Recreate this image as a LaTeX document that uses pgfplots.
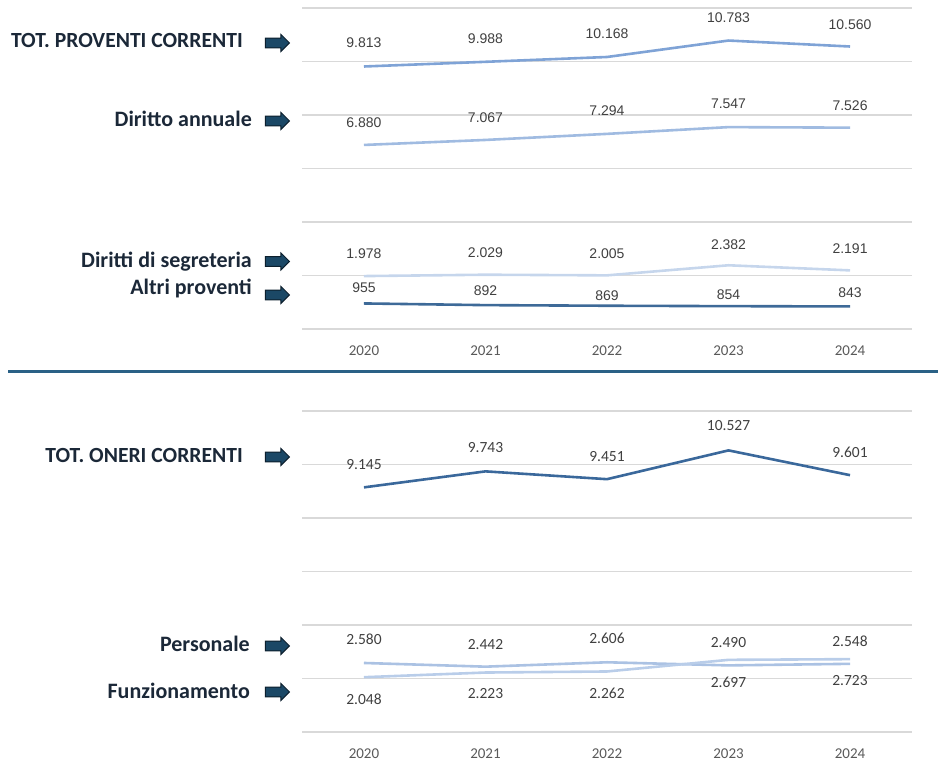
\documentclass[border=0pt]{standalone}
\usepackage{pgfplots}
\pgfplotsset{compat=1.18}
\usepackage{fontspec}
\setmainfont{Carlito}
\newfontfamily\arialf{Liberation Sans}
\usetikzlibrary{shapes.arrows}

\definecolor{gridc}{HTML}{D9D9D9}
\definecolor{yearc}{HTML}{595959}
\definecolor{valc}{HTML}{404040}
\definecolor{labc}{HTML}{1B2838}
\definecolor{arrf}{HTML}{1B4866}
\definecolor{arrd}{HTML}{0C1F2D}
\definecolor{sepc}{HTML}{2A6186}
\definecolor{cTotP}{HTML}{7FA3D6}
\definecolor{cDir}{HTML}{A0BBE1}
\definecolor{cSeg}{HTML}{C6D6EC}
\definecolor{cAltri}{HTML}{3E6A98}
\definecolor{cTotO}{HTML}{3A689B}
\definecolor{cPers}{HTML}{ABC2E3}
\definecolor{cFunz}{HTML}{B9CDE9}

\pgfplotsset{
  panel/.style={
    scale only axis, width=610pt, height=321pt,
    xmin=-0.51, xmax=4.51, ymin=0, ymax=12000,
    ytick={0,2000,...,12000}, yticklabels={}, scaled y ticks=false,
    ymajorgrids, grid style={draw=gridc, line width=1.3pt},
    axis line style={draw=none}, major tick style={draw=none},
    xtick={0,1,2,3,4}, xticklabels={2020,2021,2022,2023,2024},
    xticklabel style={font=\fontsize{15}{18}\selectfont, text=yearc, anchor=center, yshift=-22pt},
    clip=false,
  },
  vals/.style={
    line width=2.6pt, mark=none,
    nodes near coords, point meta=y,
    visualization depends on={\thisrow{off}\as\myoff},
    every node near coord/.style={anchor=center, yshift=\myoff pt, text=valc, font=#1},
    /pgf/number format/.cd, fixed, precision=0, 1000 sep={.}, assume math mode=true,
  },
}
\newcommand{\larrow}[1]{\node[single arrow, draw=arrd, fill=arrf, line width=1pt,
  minimum width=17pt, minimum height=24pt, single arrow head extend=3.5pt, inner xsep=0pt, inner ysep=4.3pt] at (275pt,#1) {};}
\newcommand{\lab}[4][22]{\node[anchor=base east, inner sep=0pt, text=labc, font=\bfseries\fontsize{#1}{26}\selectfont] at (#2,#3) {#4};}

\begin{document}
\begin{tikzpicture}
\path[use as bounding box] (0,0) rectangle (938pt,762pt);

% ---------- top panel ----------
\begin{axis}[panel, at={(302pt,433pt)}, anchor=south west]
\addplot[cTotP, vals={\arialf\fontsize{14}{16}\selectfont}] table[x=x,y=y] {
x y off
0 9813 23.5
1 9988 23.5
2 10168 23
3 10783 22.6
4 10560 21.5
};
\addplot[cDir, vals={\arialf\fontsize{14}{16}\selectfont}] table[x=x,y=y] {
x y off
0 6880 22
1 7067 22
2 7294 23
3 7547 23
4 7526 22
};
\addplot[cSeg, vals={\arialf\fontsize{14}{16}\selectfont}] table[x=x,y=y] {
x y off
0 1978 22
1 2029 22
2 2005 22
3 2382 21
4 2191 22
};
\addplot[cAltri, vals={\arialf\fontsize{14}{16}\selectfont}] table[x=x,y=y] {
x y off
0 955 15.5
1 892 14
2 869 10
3 854 11
4 843 13.5
};
\end{axis}

% ---------- bottom panel ----------
\begin{axis}[panel, at={(302pt,30pt)}, anchor=south west]
\addplot[cTotO, vals={\fontsize{15.5}{18}\selectfont}] table[x=x,y=y] {
x y off
0 9145 23
1 9743 24
2 9451 22.7
3 10527 25
4 9601 22.7
};
\addplot[cPers, vals={\fontsize{15.5}{18}\selectfont}] table[x=x,y=y] {
x y off
0 2580 24
1 2442 22.6
2 2606 24
3 2490 23
4 2548 22.7
};
\addplot[cFunz, vals={\fontsize{15.5}{18}\selectfont}] table[x=x,y=y] {
x y off
0 2048 -22
1 2223 -20.6
2 2262 -21.6
3 2697 -22.3
4 2723 -21
};
\end{axis}

% separator
\draw[sepc, line width=3pt] (8pt,390pt) -- (938pt,390pt);

% left labels (image y -> 762 - y)
\lab[21.6]{243pt}{714pt}{TOT. PROVENTI CORRENTI}
\lab{252pt}{635pt}{Diritto annuale}
\lab{252pt}{494pt}{Diritti di segreteria}
\lab{252pt}{467pt}{Altri proventi}
\lab[21.6]{243pt}{299pt}{TOT. ONERI CORRENTI}
\lab{250pt}{110pt}{Personale}
\lab{250pt}{63pt}{Funzionamento}

\larrow{719pt}
\larrow{641pt}
\larrow{500.5pt}
\larrow{467pt}
\larrow{305pt}
\larrow{116pt}
\larrow{70pt}
\end{tikzpicture}
\end{document}
